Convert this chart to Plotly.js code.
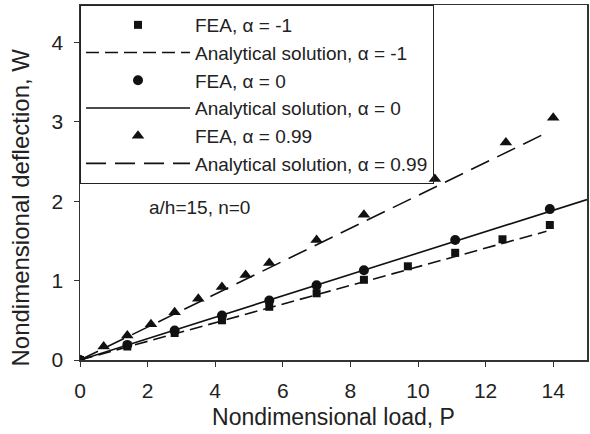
<!DOCTYPE html>
<html>
<head>
<meta charset="utf-8">
<script src="https://cdn.plot.ly/plotly-3.0.1.min.js"></script>
<style>html,body{margin:0;padding:0;background:#fff;}#plot{width:590px;height:434px;}</style>
</head>
<body>
<div id="plot"></div>
<script>
// FEA, alpha = -1
const feaM1_P = [0, 1.4, 2.8, 4.2, 5.6, 7.0, 8.4, 9.7, 11.1, 12.5, 13.9];
const feaM1_W = [0, 0.17, 0.34, 0.50, 0.67, 0.84, 1.01, 1.18, 1.35, 1.52, 1.70];
// Analytical, alpha = -1
const anM1_P = [0, 13.8];
const anM1_W = [0, 1.62];
// FEA, alpha = 0
const fea0_P = [0, 1.4, 2.8, 4.2, 5.6, 7.0, 8.4, 11.1, 13.9];
const fea0_W = [0, 0.19, 0.37, 0.56, 0.75, 0.94, 1.13, 1.51, 1.90];
// Analytical, alpha = 0
const an0_P = [0, 15];
const an0_W = [0, 2.02];
// FEA, alpha = 0.99
const fea99_P = [0, 0.7, 1.4, 2.1, 2.8, 3.5, 4.2, 4.9, 5.6, 7.0, 8.4, 10.5, 12.6, 14.0];
const fea99_W = [0, 0.17, 0.31, 0.45, 0.60, 0.77, 0.92, 1.07, 1.22, 1.51, 1.83, 2.28, 2.74, 3.05];
// Analytical, alpha = 0.99
const an99_P = [0, 13.8];
const an99_W = [0, 2.86];

const xTicks = [0, 2, 4, 6, 8, 10, 12, 14];
const yTicks = [0, 1, 2, 3, 4];
const xTitle = 'Nondimensional load, P';
const yTitle = 'Nondimensional deflection, W';
const note = 'a/h=15, n=0';

const black = '#111';
const traces = [
  {x: feaM1_P, y: feaM1_W, mode: 'markers', name: 'FEA, α = -1',
   marker: {symbol: 'square', size: 8, color: black}},
  {x: anM1_P, y: anM1_W, mode: 'lines', name: 'Analytical solution, α = -1',
   line: {color: black, width: 1.6, dash: '13px,6px'}},
  {x: fea0_P, y: fea0_W, mode: 'markers', name: 'FEA, α = 0',
   marker: {symbol: 'circle', size: 10, color: black}},
  {x: an0_P, y: an0_W, mode: 'lines', name: 'Analytical solution, α = 0',
   line: {color: black, width: 1.6}},
  {x: fea99_P, y: fea99_W, mode: 'markers', name: 'FEA, α = 0.99',
   marker: {symbol: 'triangle-up', size: 11, color: black}},
  {x: an99_P, y: an99_W, mode: 'lines', name: 'Analytical solution, α = 0.99',
   line: {color: black, width: 1.6, dash: '20px,9px'}}
];

const layout = {
  width: 590, height: 434,
  margin: {l: 80, r: 3, t: 5, b: 74},
  paper_bgcolor: '#fff', plot_bgcolor: '#fff',
  font: {family: 'Liberation Sans, Arial, sans-serif', color: '#222', size: 20},
  showlegend: true,
  legend: {x: 0, y: 1, xanchor: 'left', yanchor: 'top',
    bordercolor: '#222', borderwidth: 1, bgcolor: 'rgba(0,0,0,0)',
    font: {size: 19, color: '#222'}, itemwidth: 104},
  xaxis: {range: [0, 15], tickvals: xTicks, ticktext: xTicks.map(String),
    showgrid: false, zeroline: false, showline: true, linecolor: '#333', linewidth: 1.5,
    mirror: true, ticks: 'outside', ticklen: 5, tickcolor: '#333', ticklabelstandoff: 6,
    tickfont: {size: 21, color: '#222'},
    title: {text: xTitle, font: {size: 23, color: '#222'}, standoff: 8}},
  yaxis: {range: [0, 4.47], tickvals: yTicks, ticktext: yTicks.map(String),
    showgrid: false, zeroline: false, showline: true, linecolor: '#333', linewidth: 1.5,
    mirror: true, ticks: 'outside', ticklen: 5, tickcolor: '#333', ticklabelstandoff: 6,
    tickfont: {size: 21, color: '#222'}},
  annotations: [
    {x: 3.55, y: 1.92, xref: 'x', yref: 'y', text: note,
     showarrow: false, font: {size: 19, color: '#222'}},
    {x: -0.118, y: 0.43, xref: 'paper', yref: 'paper', text: yTitle, textangle: -90,
     xanchor: 'center', yanchor: 'middle',
     showarrow: false, font: {size: 24, color: '#222'}}
  ]
};

Plotly.newPlot('plot', traces, layout, {displayModeBar: false, staticPlot: true});
</script>
</body>
</html>
